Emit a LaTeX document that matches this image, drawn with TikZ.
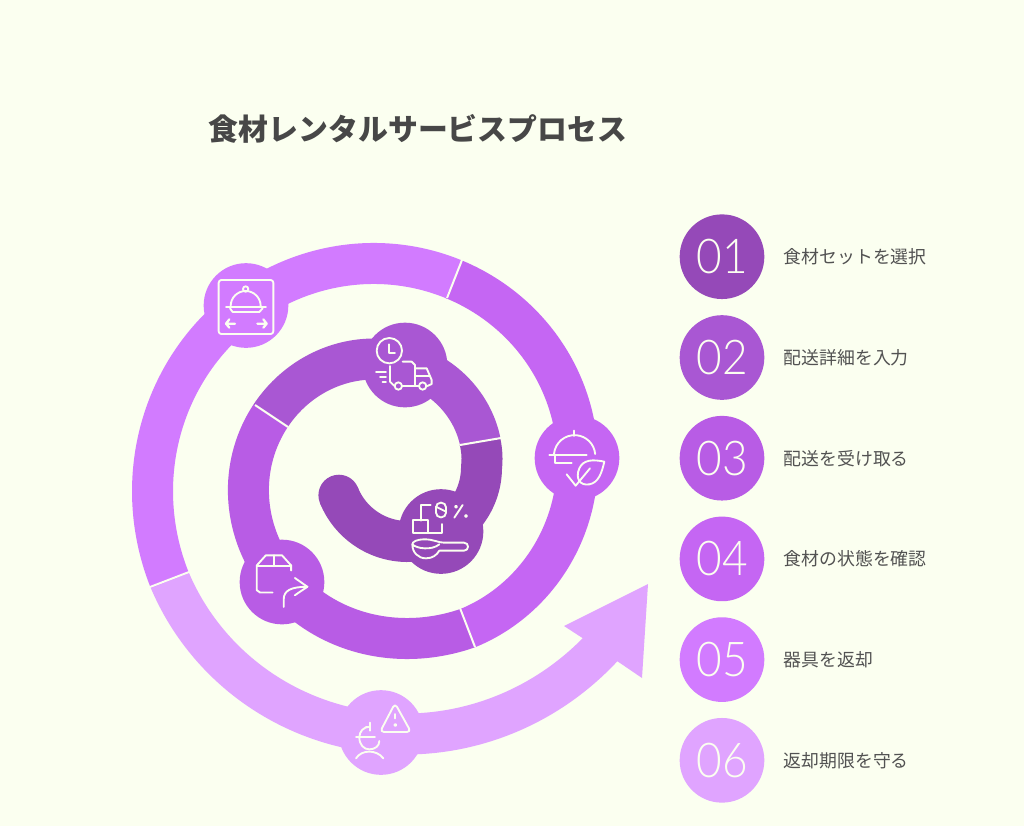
\documentclass[tikz,border=0pt]{standalone}
\usepackage{fontspec}
\setmainfont{Noto Sans CJK JP}
\newfontfamily\numfont[FakeStretch=0.92]{Lato Light}
\definecolor{bgc}{HTML}{FBFFF0}
\definecolor{sa}{HTML}{9549B8}
\definecolor{sb}{HTML}{A957D3}
\definecolor{sc}{HTML}{B85CE5}
\definecolor{sd}{HTML}{C566F3}
\definecolor{se}{HTML}{D27BFF}
\definecolor{sf}{HTML}{E0A4FF}
\tikzset{
  band/.style={line width=30.75pt,line cap=butt},
  sepline/.style={draw=bgc,line width=1.5pt},
  disc/.style={circle,minimum size=63.5pt,inner sep=0pt},
  icn/.style={draw=bgc,line width=1.4pt,line cap=round,line join=round,fill=none},
  numtxt/.style={text=bgc,font=\numfont\fontsize{36}{36}\selectfont},
  lbl/.style={anchor=west,text=black!68,font=\fontsize{13.4}{16}\selectfont},
  zoomA/.style={x=0.25pt,y=-0.25pt},
  zoomB/.style={x=0.2534pt,y=-0.2534pt},
}
\newcommand{\spiralpart}[3]{\draw[band,draw=#3] plot[domain=#1:#2,samples=90,smooth] ({389+(92+\x/3.75)*cos(\x)},{476-(92+\x/3.75)*sin(\x)});}
\begin{document}
\begin{tikzpicture}[x=0.75pt,y=-0.75pt,declare function={uu(\t)=(\t-152.9)/144.5;rc(\t)=92+\t/3.75-24*uu(\t)*uu(\t)*uu(\t)*(1-uu(\t));ra(\t)=74+3*max(\t,0)/19.7;vv(\t)=(\t-565)/117;rf(\t)=92+\t/3.75-10*vv(\t)*(1-vv(\t));}]
\fill[bgc] (0,0) rectangle (1024,826);
\useasboundingbox (0,0) rectangle (1024,826);
% title
\node[anchor=center,text=black!72,font=\fontsize{22.4}{26}\selectfont\bfseries] (title) at (418,129) {食材レンタルサービスプロセス};
% spiral
\draw[band,draw=sf] plot[domain=565:682,samples=90,smooth] ({389+rf(\x)*cos(\x)},{476-rf(\x)*sin(\x)});
\fill[sf] (584,639) -- (564,626) -- (648,584) -- (642,678) -- (620,663) -- cycle;
\spiralpart{431.6}{565.5}{se}
\spiralpart{297.4}{431.8}{sd}
\draw[band,draw=sc] plot[domain=152.9:297.6,samples=90,smooth] ({389+rc(\x)*cos(\x)},{476-rc(\x)*sin(\x)});
\begin{scope}
\clip (200,489.4) -- (620,417.7) -- (620,0) -- (200,0) -- cycle;
\spiralpart{8}{153.1}{sb}
\end{scope}
\begin{scope}
\clip (200,489.4) -- (620,417.7) -- (620,826) -- (200,826) -- cycle;
\draw[band,draw=sa] plot[domain=-158:35,samples=90,smooth] ({407.5+ra(\x)*cos(\x)},{467.5-ra(\x)*sin(\x)});
\end{scope}
\fill[sa] (338.9,495.2) circle[radius=20.5];
\draw[sepline] (460,445) -- (501,438);
\draw[sepline] (255,405) -- (288,427);
\draw[sepline] (460,608) -- (475,647);
\draw[sepline] (462,260) -- (447,298);
\draw[sepline] (150,587) -- (189,572);
% discs on the spiral
\node[disc,fill=sa] (ca) at (441,531.5) {};
\node[disc,fill=sb] (cb) at (405,365) {};
\node[disc,fill=sc] (cc) at (282,582) {};
\node[disc,fill=sd] (cd) at (577,458) {};
\node[disc,fill=se] (ce) at (246,305.5) {};
\node[disc,fill=sf] (cf) at (381,732.5) {};
% icon: cloche in frame
\begin{scope}[shift={(120,230)},zoomA]
\draw[icn,rounded corners=2pt] (296,150) rectangle (460,312);
\draw[icn] (332,228) arc[start angle=180,end angle=360,radius=45];
\draw[icn] (377,177) circle[radius=8];
\draw[icn] (318,232) -- (438,232);
\draw[icn] (330,235) -- (338,246) -- (418,246) -- (428,235);
\draw[icn,line width=1.7pt] (318,281) -- (345,281) (328,268) -- (318,281) -- (328,293);
\draw[icn,line width=1.7pt] (412,281) -- (440,281) (430,268) -- (440,281) -- (430,293);
\end{scope}
% icons in zoom 2 frame
\begin{scope}[shift={(300,310)},zoomA]
% truck
\draw[icn] (268,122) circle[radius=38];
\draw[icn] (268,103) -- (268,130) -- (285,130);
\draw[icn] (308,155) -- (335,155) -- (345,165) -- (345,228);
\draw[icn] (270,168) -- (270,215) -- (282,227);
\draw[icn] (308,228) -- (355,228);
\draw[icn] (345,175) -- (380,175) -- (395,210) -- (395,222) -- (382,228);
\draw[icn] (345,198) -- (388,198);
\draw[icn] (295,228) circle[radius=11];
\draw[icn] (368,228) circle[radius=11];
\draw[icn] (228,187) -- (258,187) (240,202) -- (258,202) (248,217) -- (258,217);
% cloche and leaf
\draw[icn] (822,362) -- (822,378);
\draw[icn] (762,432) arc[start angle=185,end angle=355,radius=62];
\draw[icn] (748,435) -- (860,435);
\draw[icn] (765,437) -- (765,458) -- (815,458);
\draw[icn] (913,455) .. controls (880,448) and (850,448) .. (838,475) .. controls (825,505) and (840,528) .. (868,523) .. controls (895,518) and (905,490) .. (913,455);
\draw[icn] (800,493) -- (827,527) -- (870,475);
% scoop, box, pill, percent
\draw[icn] (362,632) -- (362,585) -- (392,585);
\draw[icn,rounded corners=3.5pt] (408,578) rectangle (438,622);
\draw[icn] (408,590) -- (438,605);
\draw[icn] (463,623) -- (488,585);
\draw[icn] (468,590) circle[radius=3];
\draw[icn] (498,618) circle[radius=3];
\draw[icn] (340,630) rectangle (385,668);
\draw[icn] (385,668) -- (426,668) -- (426,642);
\draw[icn] (337,703) .. controls (337,728) and (355,745) .. (378,745) .. controls (398,745) and (410,735) .. (418,722) -- (492,722) .. controls (508,722) and (508,698) .. (492,698) -- (432,698) .. controls (415,698) and (400,688) .. (375,688) .. controls (350,688) and (337,695) .. (337,703) .. controls (350,716) and (395,722) .. (418,703);
\end{scope}
% box and arrow
\begin{scope}[shift={(130,530)},zoomB]
\draw[icn] (422,185) -- (385,185) -- (375,178) -- (375,105) -- (402,75) -- (450,75) -- (477,105) -- (477,120);
\draw[icn] (375,107) -- (477,107);
\draw[icn] (427,75) -- (427,107);
\draw[icn] (455,228) -- (455,205) .. controls (455,180) and (475,168) .. (525,168);
\draw[icn] (488,142) -- (525,168) -- (488,193);
\end{scope}
% warning and person
\begin{scope}[shift={(330,680)},zoomA]
\draw[icn,rounded corners=3pt] (195,70) -- (150,156) -- (243,156) -- cycle;
\draw[icn] (196,102) -- (196,115);
\draw[icn] (196,135) circle[radius=3];
\draw[icn] (120,140) .. controls (100,140) and (88,155) .. (88,172) .. controls (88,195) and (102,208) .. (118,208) .. controls (135,208) and (148,198) .. (148,183);
\draw[icn] (78,172) -- (135,172);
\draw[icn] (120,128) -- (120,152) (108,140) -- (120,140);
\draw[icn] (78,235) .. controls (95,208) and (140,208) .. (160,235);
\end{scope}
% legend
\foreach \nm/\yy/\col/\txt in {1/256.7/sa/食材セットを選択,2/357.5/sb/配送詳細を入力,3/458.2/sc/配送を受け取る,4/558.9/sd/食材の状態を確認,5/659.6/se/器具を返却,6/760.3/sf/返却期限を守る}{
  \node[disc,fill=\col] (n\nm) at (722,\yy) {};
  \node[numtxt] (d\nm) at (722,\yy) {0\nm};
  \node[lbl] (l\nm) at (779,\yy) {\txt};
}
\end{tikzpicture}
\end{document}
